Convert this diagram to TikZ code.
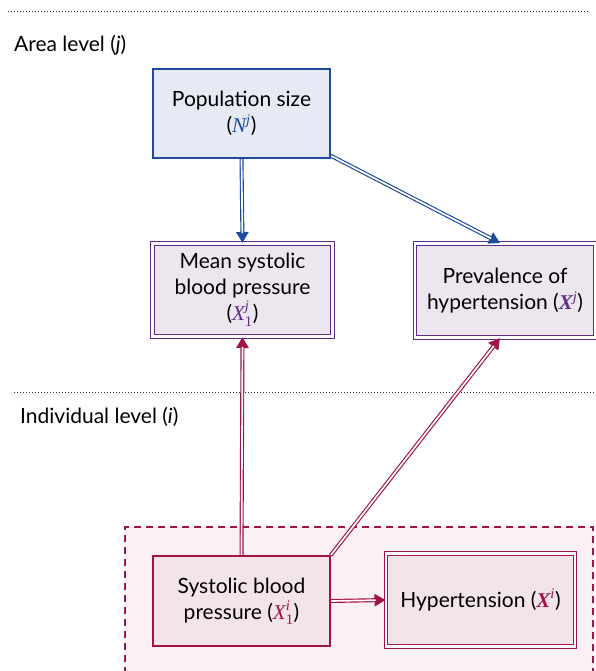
\documentclass[tikz,border=0pt]{standalone}
\usepackage{amsmath}
\usepackage{fontspec}
\setmainfont{Lato}
\newfontfamily\varserif{Liberation Serif}
\usetikzlibrary{arrows.meta}
% variable symbols set in a serif face
\newcommand\vit[1]{\text{\varserif\itshape #1}}
\newcommand\vup[1]{\text{\varserif #1}}
\newcommand\vbf[1]{\text{\varserif\bfseries\itshape #1}}
\definecolor{areablue}{HTML}{1F4B9E}
\definecolor{areafill}{HTML}{E6EAF4}
\definecolor{aggpurple}{HTML}{5E2C84}
\definecolor{aggfill}{HTML}{ECE6EE}
\definecolor{indred}{HTML}{A11448}
\definecolor{indfill}{HTML}{F3E4E9}
\definecolor{regionfill}{HTML}{FBF1F4}
\tikzset{
  box/.style={draw, line width=1.3pt, align=center, font=\fontsize{21}{26}\selectfont, inner sep=0pt},
  dbox/.style={box, double, double distance=2.6pt, line width=1pt},
  % a hollow double stroke ending in a solid triangular head
  link/.style={line width=4pt, -{Triangle[length=11pt,width=12pt]},
    postaction={draw=white, line width=1.7pt, -, shorten >=10pt, shorten <=0.6pt}},
  lvl/.style={anchor=west, font=\fontsize{21}{25}\selectfont, inner sep=0pt},
  sep/.style={dotted, line width=1pt, black!80}
}
\begin{document}
\begin{tikzpicture}[x=1pt,y=-1pt]
\useasboundingbox (0,0) rectangle (596,671);
% level separators and labels
\draw[sep] (8,12) -- (590,12);
\node[lvl] (arealbl) at (14,45) {Area level (\textit{j})};
\draw[sep] (14,392) -- (596,392);
\node[lvl] (indlbl) at (20,417) {Individual level (\textit{i})};
% individual-level region
\fill[regionfill] (125,527) rectangle (593,675);
\draw[indred, dash pattern=on 7pt off 5pt, line width=1.3pt] (593,675) -- (593,527) -- (125,527) -- (125,675);
% area-level nodes
\node[box, draw=areablue, fill=areafill, minimum width=177pt, minimum height=89pt] (pop) at (241.5,113.5)
  {Population size\\(\color{areablue}$\vit{N}^{\vit{j}}$\color{black})};
\node[dbox, draw=aggpurple, fill=aggfill, minimum width=180pt, minimum height=93pt] (msbp) at (242.5,290)
  {Mean systolic\\blood pressure\\(\color{aggpurple}$\vit{X}_{\vup{1}}^{\vit{j}}$\color{black})};
\node[dbox, draw=aggpurple, fill=aggfill, minimum width=180pt, minimum height=94pt] (prev) at (505,290.5)
  {Prevalence of\\hypertension (\color{aggpurple}$\vbf{X}^{\vit{j}}$\color{black})};
% individual-level nodes
\node[box, draw=indred, fill=indfill, minimum width=177pt, minimum height=90pt] (sbp) at (241.5,601)
  {Systolic blood\\pressure (\color{indred}$\vit{X}_{\vup{1}}^{\vit{i}}$\color{black})};
\node[dbox, draw=indred, fill=indfill, minimum width=189pt, minimum height=93pt] (hyp) at (480.5,600)
  {Hypertension (\color{indred}$\vbf{X}^{\vit{i}}$\color{black})};
% connectors
\draw[link, draw=areablue] (pop.south) -- (msbp.north);
\draw[link, draw=areablue] ([yshift=3pt]pop.south east) -- ([xshift=-5pt]prev.north);
\draw[link, draw=indred] (sbp.north) -- (msbp.south);
\draw[link, draw=indred] (sbp.north east) -- ([xshift=-5pt]prev.south);
\draw[link, draw=indred] (sbp.east) -- (hyp.west);
\end{tikzpicture}
\end{document}
